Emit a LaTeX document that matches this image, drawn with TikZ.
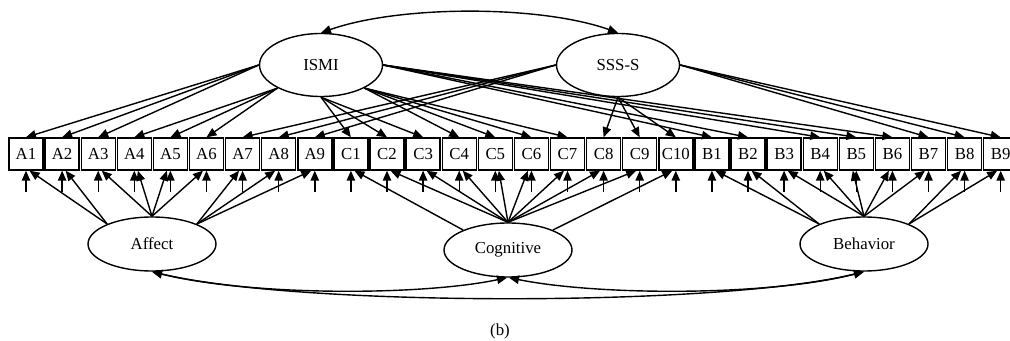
\documentclass[tikz,border=0pt]{standalone}
\usepackage{fontspec}
\setmainfont{Liberation Serif}
\usetikzlibrary{arrows.meta,shapes.geometric}

\begin{document}
\begin{tikzpicture}[
             x                 = 0.5pt,
             y                 = -0.5pt,
             every node/.style = {font=\fontsize{8.4}{10}\selectfont},
             item/.style       = {draw, rectangle, line width=0.7pt, minimum width=17pt,
                                  minimum height=16pt, inner sep=0pt},
             latent/.style     = {draw, ellipse, line width=0.7pt, minimum width=64pt,
                                  minimum height=27pt, inner sep=0pt},
             load/.style       = {line width=0.7pt, -{Triangle[length=5pt, width=4.2pt]}},
             cov/.style        = {line width=0.7pt,
                                  {Triangle[length=5pt, width=4.2pt]}-{Triangle[length=5pt, width=4.2pt]}}]
             \useasboundingbox (0,0) rectangle (1010,341);
             % observed items with their error arrows
             \foreach \n [count=\i from 0] in {A1,A2,A3,A4,A5,A6,A7,A8,A9,
                                                C1,C2,C3,C4,C5,C6,C7,C8,C9,C10,
                                                B1,B2,B3,B4,B5,B6,B7,B8,B9}
                {
                \node [item] (\n) at ({26+36.1*\i},154) {\n};
                \coordinate (e\n) at ({26+36.1*\i},192);
                \draw [load] (e\n) -- (\n.south);
                }
             % latent factors
             \node [latent, minimum width=61.5pt, minimum height=31.5pt] (ISMI) at (321,65) {ISMI};
             \node [latent, minimum width=61.5pt, minimum height=31.5pt] (SSS) at (618,65) {SSS-S};
             \node [latent] (Affect) at (152,244) {Affect};
             \node [latent] (Cognitive) at (508,250) {Cognitive};
             \node [latent] (Behavior) at (864,244) {Behavior};
             % lower loadings
             \foreach \n in {A1,A2} \draw [load] (Affect.156) -- (\n.282);
             \foreach \n in {A3,A4} \draw [load] (Affect.north) -- (\n.282);
             \foreach \n in {A5,A6} \draw [load] (Affect.north) -- (\n.258);
             \foreach \n in {A7,A8,A9} \draw [load] (Affect.24) -- (\n.258);
             \draw [load] (Cognitive.156) -- (C1.282);
             \foreach \n in {C2,C3,C4,C5} \draw [load] (Cognitive.north) -- (\n.282);
             \foreach \n in {C6,C7,C8,C9} \draw [load] (Cognitive.north) -- (\n.258);
             \draw [load] (Cognitive.24) -- (C10.258);
             \foreach \n in {B1,B2} \draw [load] (Behavior.156) -- (\n.282);
             \foreach \n in {B3,B4} \draw [load] (Behavior.north) -- (\n.282);
             \foreach \n in {B5,B6,B7} \draw [load] (Behavior.north) -- (\n.258);
             \foreach \n in {B8,B9} \draw [load] (Behavior.24) -- (\n.258);
             % upper loadings
             \foreach \n in {A1,A2,A3} \draw [load] (ISMI.west) -- (\n.north);
             \foreach \n in {A4,A5,A6} \draw [load] (ISMI.208) -- (\n.north);
             \foreach \n in {C1,C2,C3} \draw [load] (ISMI.south) -- (\n.north);
             \foreach \n in {C4,C5,C6,C7} \draw [load] (ISMI.332) -- (\n.north);
             \foreach \n in {B1,B2,B4,B5,B6} \draw [load] (ISMI.east) -- (\n.north);
             \foreach \n in {A7,A8,A9} \draw [load] (SSS.west) -- (\n.north);
             \foreach \n in {C8,C9,C10} \draw [load] (SSS.south) -- (\n.north);
             \foreach \n in {B7,B8,B9} \draw [load] (SSS.east) -- (\n.north);
             % covariances
             \draw [cov] (ISMI.north) .. controls (400,5) and (540,5) .. (SSS.north);
             \draw [cov] (Affect.south) .. controls (250,296) and (420,296) .. (Cognitive.268);
             \draw [cov] (Cognitive.272) .. controls (600,296) and (770,296) .. (Behavior.south);
             \draw [cov] (Affect.south) .. controls (300,307) and (720,307) .. (Behavior.south);
             \node (caption) at (500,331) {(b)};
    \end{tikzpicture}
\end{document}
